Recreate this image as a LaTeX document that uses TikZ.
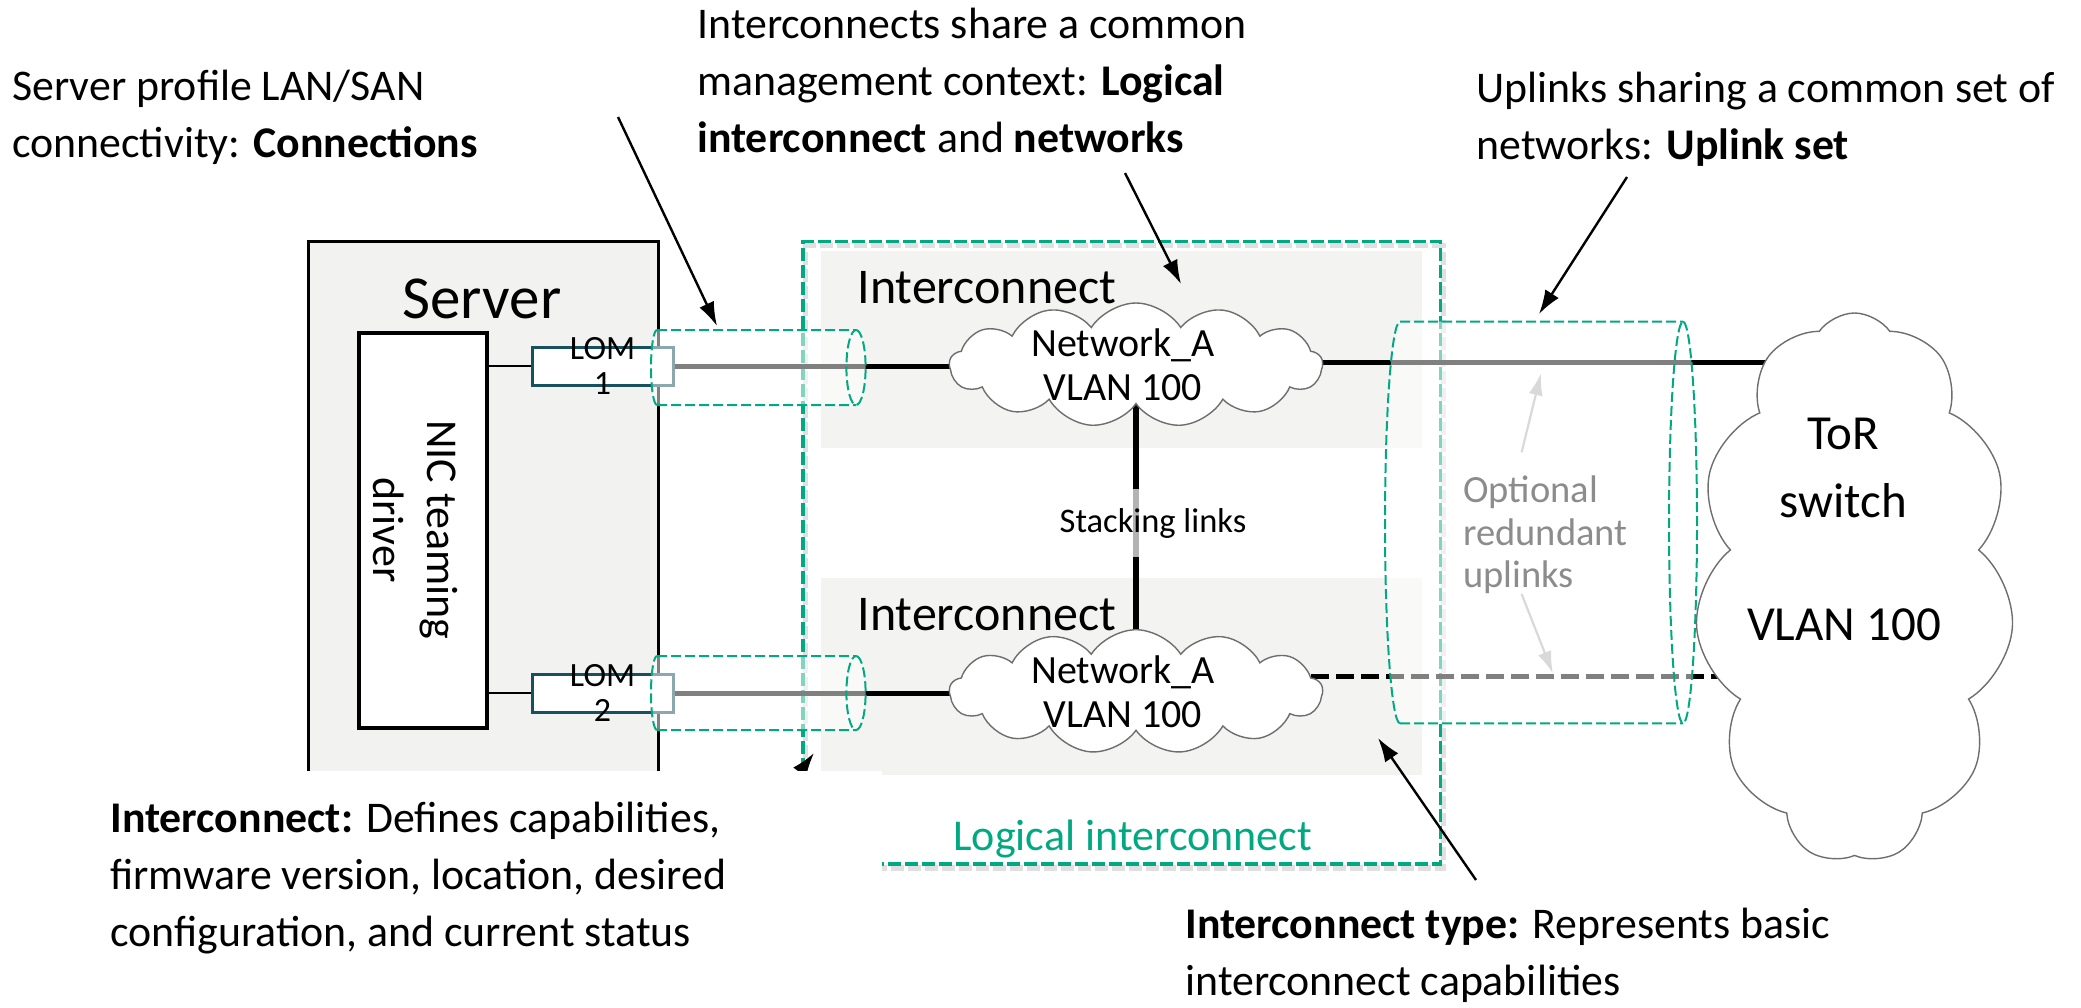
\documentclass[tikz,border=0pt]{standalone}
\usepackage{fontspec}
\setmainfont{Carlito}
\usetikzlibrary{arrows.meta,shapes.symbols}

\definecolor{hpegreen}{HTML}{01A982}
\definecolor{srvgray}{HTML}{F2F2F0}
\definecolor{icgray}{HTML}{F3F3F2}
\definecolor{lomblue}{HTML}{17505F}
\definecolor{puffline}{HTML}{6E6E6E}
\definecolor{optgray}{HTML}{8C8C8C}
\definecolor{optarrow}{HTML}{D9D9D9}

\newcommand\annfont{\fontsize{21.9}{28.5}\selectfont}

% horizontal cable sleeve: #1 left x, #2 right x, #3 top y, #4 bottom y,
% #5 left cap x radius, #6 right cap x radius, #7 cap y radius
\newcommand\cablesleeve[7]{%
  \path[tubefill] (#1,#3) -- (#2,#3) arc[start angle=90,end angle=-90,x radius=#6,y radius=#7]
     -- (#1,#4) arc[start angle=270,end angle=90,x radius=#5,y radius=#7] -- cycle;
  \draw[tubeline] (#1,#3) -- (#2,#3) (#1,#4) -- (#2,#4)
     (#1,#4) arc[start angle=270,end angle=90,x radius=#5,y radius=#7];
  \draw[tubeline] (#2,#3) arc[start angle=90,end angle=-270,x radius=#6,y radius=#7];
}

\tikzset{
  % multi-line notes are placed by the baseline of their last line
  note/.style={font=\annfont, align=left, anchor=base west, inner sep=0pt},
  ptr/.style={draw=black, line width=1.2pt, -{Latex[length=12pt,width=8pt]}},
  softptr/.style={draw=optarrow, line width=1.1pt, -{Latex[length=11pt,width=7pt]}},
  cable/.style={draw=black, line width=2.5pt},
  dashcable/.style={cable, dash pattern=on 9pt off 3.5pt},
  tubeline/.style={draw=hpegreen, line width=1pt, dash pattern=on 5pt off 2pt},
  tubefill/.style={fill=white, fill opacity=0.5},
  lgbox/.style={draw=hpegreen, line width=1.75pt, dash pattern=on 6.5pt off 2pt, inner sep=0pt},
  netcloud/.style={cloud, cloud puffs=13, cloud puff arc=115, cloud ignores aspect,
     draw=puffline, line width=0.7pt, fill=white, inner sep=0pt},
  icbox/.style={fill=icgray, inner sep=0pt},
  lombox/.style={draw=lomblue, line width=1.5pt, fill=white, inner sep=0pt,
     minimum width=70.5pt, minimum height=19pt},
  iclabel/.style={font=\fontsize{25}{30}\selectfont, anchor=base west, inner sep=0pt},
  cloudtxt/.style={font=\fontsize{20}{22}\selectfont, align=center, inner sep=0pt},
  lomtxt/.style={font=\fontsize{17}{17.5}\selectfont, align=center, inner sep=0pt},
}

\begin{document}
\begin{tikzpicture}[x=0.5pt,y=-0.5pt]
\useasboundingbox (0,0) rectangle (2081,1007);

% interconnect modules
\node[icbox, minimum width=300.5pt, minimum height=98.25pt] (icA) at (1121.5,349.25) {};
\node[icbox, minimum width=300.5pt, minimum height=98.5pt] (icB) at (1121.5,676.5) {};

% server chassis
\node[draw=black, line width=1.5pt, fill=srvgray, minimum width=175pt, minimum height=276pt,
      inner sep=0pt] (server) at (483,517) {};

% logical interconnect frame with its soft shadow
\node[lgbox, draw=black, draw opacity=0.12, line width=2.6pt, minimum width=318.85pt,
      minimum height=311.15pt] (lishadow) at (1124.35,556.85) {};
\node[lgbox, minimum width=318.85pt, minimum height=311.15pt] (li) at (1121.85,552.85) {};

% NIC teaming driver and LOM ports
\node[draw=black, line width=2pt, fill=white, minimum width=64pt, minimum height=197.5pt,
      inner sep=0pt] (nic) at (423,530.5) {};
\node[lombox] (lom1) at (602.5,366) {};
\node[lombox] (lom2) at (602.5,693) {};
\draw[line width=0.8pt] (nic.east |- lom1.west) -- (lom1.west);
\draw[line width=0.8pt] (nic.east |- lom2.west) -- (lom2.west);

% rows and centres of the network clouds
\coordinate (upRow) at (0,362);
\coordinate (dnRow) at (0,676.7);
\coordinate (cA) at (1136,365);
\coordinate (cB) at (1136,691.7);
\coordinate (torc) at (1854.5,588);

% cables
\draw[cable] (lom1.east) -- (lom1.east -| cA);
\draw[cable] (lom2.east) -- (lom2.east -| cB);
\draw[cable] (cA |- upRow) -- (torc |- upRow);
\draw[dashcable] (cB |- dnRow) -- (torc |- dnRow);
\draw[draw=black, line width=2.7pt] (cA) -- (cB);

\node[netcloud, minimum width=186.5pt, minimum height=62pt] (cloudA) at (cA) {};
\node[netcloud, minimum width=186.5pt, minimum height=62pt] (cloudB) at (cB) {};
\node[cloudtxt] (netA) at ([xshift=-6.5pt]cloudA.center) {Network\_A\\VLAN 100};
\node[cloudtxt] (netB) at ([xshift=-6.5pt]cloudB.center) {Network\_A\\VLAN 100};

\node[font=\fontsize{17.25}{20}\selectfont, fill=white, fill opacity=0.7, text opacity=1,
      minimum height=34pt, inner xsep=2pt, inner ysep=0pt] (stacklbl) at (1153,523) {Stacking links};

% top-of-rack switch
\node[netcloud, cloud puffs=11, cloud puff arc=110, minimum width=159.5pt, minimum height=275pt]
      (tor) at (torc) {};
\node[font=\fontsize{24.5}{34}\selectfont, align=center, inner sep=0pt] (torname) at (1843,468) {ToR\\switch};
\node[font=\fontsize{24.5}{30}\selectfont, anchor=base, inner sep=0pt] (torvlan) at (1844,640) {VLAN 100};

% cable sleeves: connections and uplink set
\cablesleeve{657}{856}{330}{405}{3pt}{4.8pt}{18.75pt}
\cablesleeve{657}{856}{656}{730}{3pt}{4.8pt}{18.5pt}
\cablesleeve{1400}{1683}{321.7}{723.3}{7.5pt}{7pt}{100.4pt}

% labels
\node[iclabel] (icAname) at (857,303) {Interconnect};
\node[iclabel] (icBname) at (857,630) {Interconnect};
\node[font=\fontsize{30.5}{36}\selectfont, anchor=base, inner sep=0pt] (srvname) at (482,318) {Server};
\node[font=\fontsize{22}{27}\selectfont, rotate=-90, align=center, inner sep=0pt] (nicname) at (415,530) {NIC teaming\\driver};
\node[lomtxt] (lom1name) at (lom1.center) {LOM\\1};
\node[lomtxt] (lom2name) at (lom2.center) {LOM\\2};
\node[font=\fontsize{22}{26}\selectfont, text=hpegreen, anchor=base, inner sep=0pt] (liname) at (1132.7,850) {Logical interconnect};

% optional redundant uplinks
\node[font=\fontsize{19.25}{21.25}\selectfont, text=optgray, align=left, anchor=west, inner sep=0pt]
      (optnote) at (1463,535) {Optional\\redundant\\uplinks};
\coordinate (optUpS) at (1521.6,452.3);
\coordinate (optUpE) at (1541,373.3);
\coordinate (optDnS) at (1521.6,594);
\coordinate (optDnE) at (1552.8,673.3);
\draw[softptr] (optUpS) -- (optUpE);
\draw[softptr] (optDnS) -- (optDnE);

% pointer from the interconnect note, mostly behind its white backing
\coordinate (icS) at (770,812);
\coordinate (icE) at (814,753);
\draw[ptr] (icS) -- (icE);
\fill[white] (270,770.7) rectangle (881.8,1000);

% notes
\node[note] (connnote) at (12,157) {Server profile LAN/SAN\\connectivity: \textbf{Connections}};
\node[note] (linote) at (697,152) {Interconnects share a common\\management context: \textbf{Logical}\\\textbf{interconnect} and \textbf{networks}};
\node[note] (ulnote) at (1476,159) {Uplinks sharing a common set of\\networks: \textbf{Uplink set}};
\node[note] (icnote) at (110,946) {\textbf{Interconnect:} Defines capabilities,\\firmware version, location, desired\\configuration, and current status};
\node[note] (ictnote) at (1185,995) {\textbf{Interconnect type:} Represents basic\\interconnect capabilities};

% note pointers
\coordinate (connS) at (618,117);
\coordinate (connE) at (717,326);
\coordinate (liS) at (1125,173);
\coordinate (liE) at (1181,284);
\coordinate (ulS) at (1627,177);
\coordinate (ulE) at (1539,314);
\coordinate (ictS) at (1476,880);
\coordinate (ictE) at (1378,738);
\draw[ptr] (connS) -- (connE);
\draw[ptr] (liS) -- (liE);
\draw[ptr] (ulS) -- (ulE);
\draw[ptr] (ictS) -- (ictE);
\end{tikzpicture}
\end{document}
